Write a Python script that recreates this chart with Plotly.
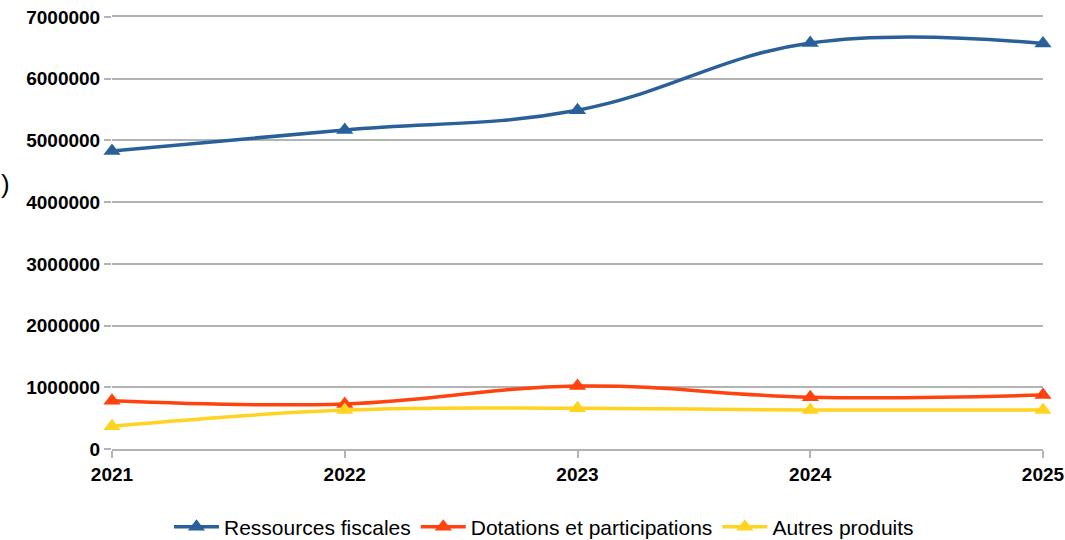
import plotly.graph_objects as go

years = [2021, 2022, 2023, 2024, 2025]
ressources_fiscales = [4830000, 5170000, 5490000, 6580000, 6570000]
dotations = [780000, 730000, 1020000, 840000, 875000]
autres_produits = [370000, 630000, 660000, 630000, 630000]
y_ticks = [0, 1000000, 2000000, 3000000, 4000000, 5000000, 6000000, 7000000]

series = [
    ("Ressources fiscales", ressources_fiscales, "#2a6099"),
    ("Dotations et participations", dotations, "#ff420e"),
    ("Autres produits", autres_produits, "#ffd320"),
]

fig = go.Figure()
for name, vals, col in series:
    fig.add_trace(go.Scatter(
        x=years, y=vals, name=name, mode="lines+markers",
        line=dict(color=col, width=3.5, shape="spline", smoothing=1.15),
        marker=dict(symbol="triangle-up", size=15, color=col),
        cliponaxis=False,
    ))

W, H = 1065, 540
ml, mr, mt, mb = 112, 22, 17, 91
pw = W - ml - mr
ph = H - mt - mb

tickfont = dict(size=19, family="Liberation Sans, Arial, sans-serif", weight="bold", color="black")

fig.update_layout(
    width=W, height=H,
    margin=dict(l=ml, r=mr, t=mt, b=mb, autoexpand=False),
    paper_bgcolor="white", plot_bgcolor="white",
    font=dict(family="Liberation Sans, Arial, sans-serif", color="black"),
    showlegend=True,
    legend=dict(orientation="h", x=(544 - ml) / pw, xanchor="center",
                y=(H - mb - 527) / ph, yanchor="middle",
                font=dict(size=21), itemwidth=45, tracegroupgap=0),
    xaxis=dict(range=[2021, 2025], tickvals=years, ticktext=[str(y) for y in years],
               showgrid=False, showline=True, linecolor="#b3b3b3", linewidth=2,
               mirror=True, ticks="outside", ticklen=7, tickcolor="#b3b3b3", tickwidth=2,
               tickfont=tickfont, automargin=False, ticklabeloverflow="allow"),
    yaxis=dict(range=[0, 7000000], tickvals=y_ticks, ticktext=[str(v) for v in y_ticks],
               showgrid=True, gridcolor="#b3b3b3", gridwidth=2,
               showline=False, zeroline=True, zerolinecolor="#b3b3b3", zerolinewidth=2,
               ticks="outside", ticklen=7, tickcolor="#b3b3b3", tickwidth=2,
               tickfont=tickfont, automargin=False, ticklabeloverflow="allow"),
)

fig.add_annotation(xref="paper", yref="paper", x=(0 - ml) / pw, y=(H - mb - 184) / ph,
                   text=")", showarrow=False, xanchor="left", yanchor="middle",
                   borderpad=0, font=dict(size=26, color="black"))

fig.write_html("out.html", config={"displayModeBar": False},
               post_script="document.body.style.margin='0';document.body.style.overflow='hidden';")
